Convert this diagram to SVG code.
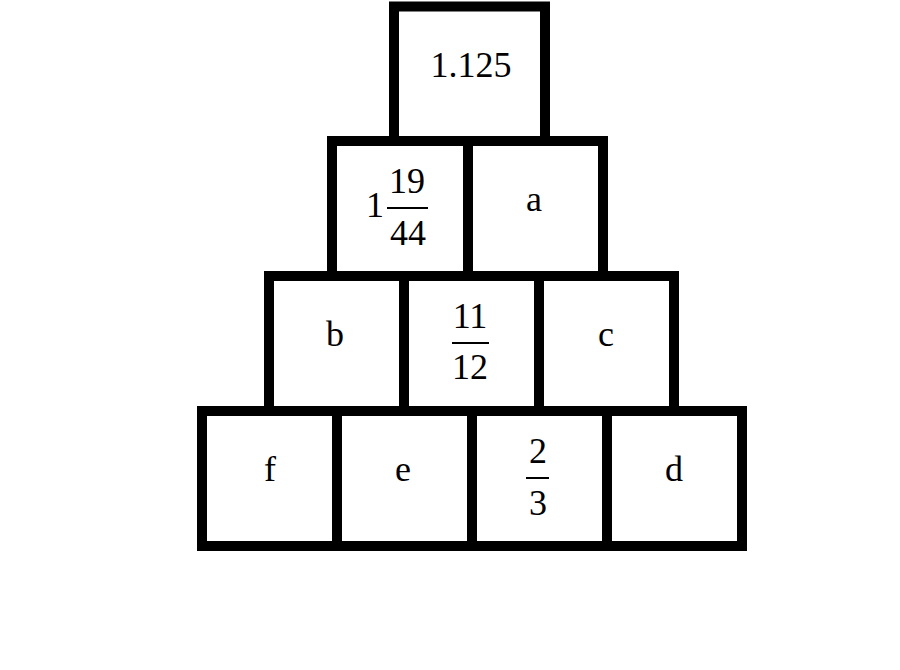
<svg xmlns="http://www.w3.org/2000/svg" width="900" height="670" viewBox="0 0 900 670">
<style>
.box{fill:none;stroke:#000;stroke-width:10}
.t{font-size:36px;fill:#000;text-anchor:middle}
.bar{stroke:#000;stroke-width:2}
</style>
<rect width="900" height="670" fill="#fff"/>
<g font-family="Liberation Serif, Times New Roman, Times, serif">
<g id="top"><rect class="box" x="394" y="6.5" width="151" height="134.5"/><text class="t" x="471" y="77">1.125</text></g>
<g id="r2c1"><rect class="box" x="332" y="141" width="136" height="135"/><text class="t" x="375" y="217">1</text><text class="t" x="407" y="193">19</text><line class="bar" x1="387" y1="208" x2="428" y2="208"/><text class="t" x="408" y="245">44</text></g>
<g id="a"><rect class="box" x="468" y="141" width="135" height="135"/><text class="t" x="534" y="211">a</text></g>
<g id="b"><rect class="box" x="269" y="276" width="135" height="135"/><text class="t" x="335" y="346">b</text></g>
<g id="r3c2"><rect class="box" x="404" y="276" width="135" height="135"/><text class="t" x="470" y="328">11</text><line class="bar" x1="452" y1="343" x2="489" y2="343"/><text class="t" x="470" y="379">12</text></g>
<g id="c"><rect class="box" x="539" y="276" width="135" height="135"/><text class="t" x="606" y="346">c</text></g>
<g id="f"><rect class="box" x="202" y="411" width="135" height="135"/><text class="t" x="270" y="481">f</text></g>
<g id="e"><rect class="box" x="337" y="411" width="135" height="135"/><text class="t" x="403" y="481">e</text></g>
<g id="r4c3"><rect class="box" x="472" y="411" width="135" height="135"/><text class="t" x="538" y="463">2</text><line class="bar" x1="526" y1="478" x2="549" y2="478"/><text class="t" x="538" y="515">3</text></g>
<g id="d"><rect class="box" x="607" y="411" width="135" height="135"/><text class="t" x="674" y="481">d</text></g>
</g>
<g id="connectors"></g>
</svg>
